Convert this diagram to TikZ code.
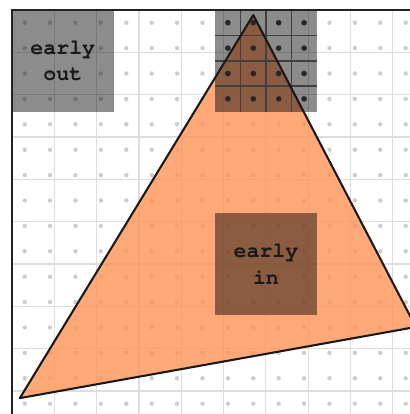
\documentclass[tikz,border=0pt]{standalone}
\usepackage{tikz}

\definecolor{triorange}{RGB}{255,146,86}
\definecolor{gridgray}{RGB}{221,221,221}
\definecolor{dotgray}{RGB}{205,205,205}
\definecolor{framegray}{RGB}{34,34,34}

\newcommand{\codefont}{\fontencoding{T1}\fontfamily{pcr}\fontseries{b}\selectfont}

\tikzset{
	tilelabel/.style={font=\codefont\fontsize{14.5}{18}\selectfont, align=center, text=black!90},
	tileshade/.style={fill=black, fill opacity=0.45},
}

\begin{document}
\begin{tikzpicture}[x=0.6cm, y=-0.6cm]
		
		% 0. 画布范围
		\useasboundingbox (-0.472,-0.394) rectangle (15.67,15.906);
		
		\begin{scope}
		\clip (-0.472,-0.394) rectangle (15.67,15.906);
		
		% 1. 背景网格与采样点
		\draw[gridgray, line width=0.7pt] (0,0) grid (16,16);
		\foreach \i in {0,...,15}
			\foreach \j in {0,...,15}
				\fill[dotgray] (\i+0.5,\j+0.5) circle (1.5pt);
		
		% 2. 三角形顶点
		\coordinate (A) at (9.5,0.2);
		\coordinate (B) at (0.31,15.28);
		\coordinate (C) at (15.9,12.48);
		\fill[triorange, fill opacity=0.8] (A) -- (B) -- (C) -- cycle;
		
		% 3. 灰色图块
		\fill[tileshade] (0,0) rectangle (4,4); % early out
		\fill[tileshade] (8,0) rectangle (12,4); % 顶部图块
		\fill[tileshade] (8,8) rectangle (12,12); % early in
		
		% 4. 顶部图块的内部网格与黑点
		\foreach \k in {1,2,3} {
			\draw[black!75, line width=1pt] (8+\k,0) -- (8+\k,4);
			\draw[black!75, line width=1pt] (8,\k) -- (12,\k);
		}
		\foreach \i in {8,...,11}
			\foreach \j in {0,...,3}
				\fill[black!85] (\i+0.5,\j+0.5) circle (1.9pt);
		
		% 5. 三角形边
		\draw[black!90, line width=1.4pt, line join=round] (A) -- (B) -- (C) -- cycle;
		
		% 6. 外框
		\draw[framegray, line width=2pt] (0,0) rectangle (16,16);
		\end{scope}
		
		% 标注
		\node[tilelabel] (earlyout) at (2,2) {early\\out};
		\node[tilelabel] (earlyin) at (10,10) {early\\in};
		
	\end{tikzpicture}
\end{document}
